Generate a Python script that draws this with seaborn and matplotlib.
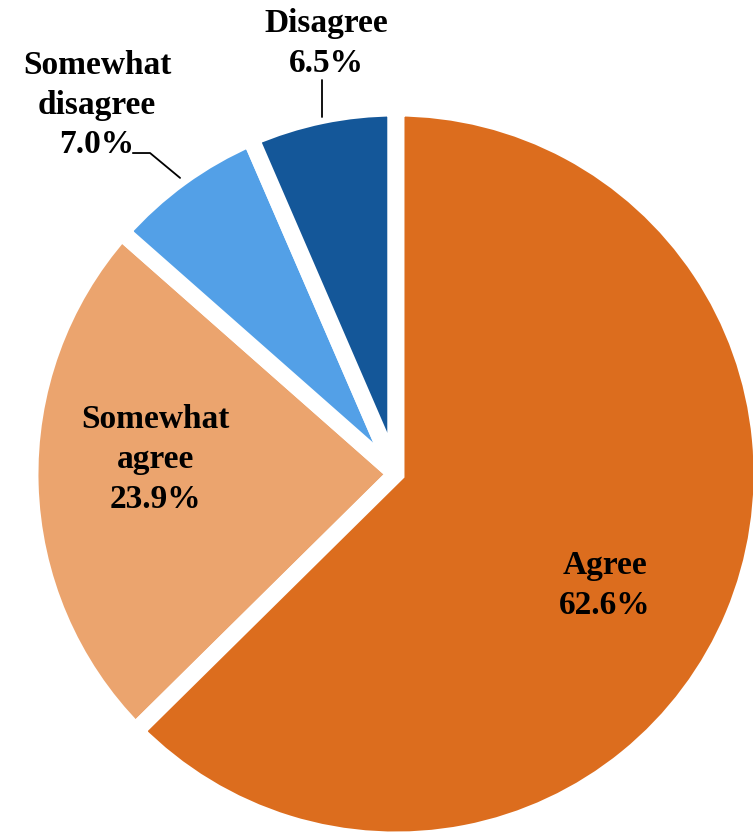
import numpy as np
import matplotlib
matplotlib.use("Agg")
import matplotlib.pyplot as plt
import seaborn as sns

# ========== data ==========
categories = ["Agree", "Somewhat\nagree", "Somewhat\ndisagree", "Disagree"]
shares = [62.6, 23.9, 7.0, 6.5]
colors = ["#DC6D1E", "#EBA46E", "#53A0E7", "#145799"]

sns.set_style("white")
plt.rcParams["font.family"] = ["Liberation Serif", "DejaVu Serif"]

fig = plt.figure(figsize=(7.53, 8.35), dpi=100)
ax = fig.add_axes([0, 0, 1, 1])

# thick white borders make the gaps between slices
wedges, _ = ax.pie(shares, colors=colors, startangle=90, counterclock=False,
                   radius=1.0,
                   wedgeprops=dict(edgecolor="white", linewidth=12.2))
for w in wedges[1:]:
    w.set_joinstyle("bevel")
wedges[0].set_joinstyle("miter")
wedges[0].set_zorder(5)  # big slice on top hides the small slices' corners

# label positions (data units), last two use leader lines
lab_pos = [(0.571, -0.305), (-0.658, 0.040), (-0.817, 1.008), (-0.191, 1.176)]
font = dict(fontsize=24, fontweight="bold", ha="center", va="center",
            linespacing=1.37, color="black", zorder=6)
for i, (name, val) in enumerate(zip(categories, shares)):
    ax.text(lab_pos[i][0], lab_pos[i][1], f"{name}\n{val:.1f}%", **font)

# leader lines
ax.plot([-0.719, -0.672, -0.590], [0.877, 0.877, 0.809], color="black", lw=1.3)
ax.plot([-0.202, -0.202], [1.077, 0.975], color="black", lw=1.3)

ax.set_xlim(-396 / 366, 357 / 366)
ax.set_ylim(-361 / 366, 474 / 366)
ax.set_aspect("auto")
ax.axis("off")

plt.savefig("out.png", dpi=100)
